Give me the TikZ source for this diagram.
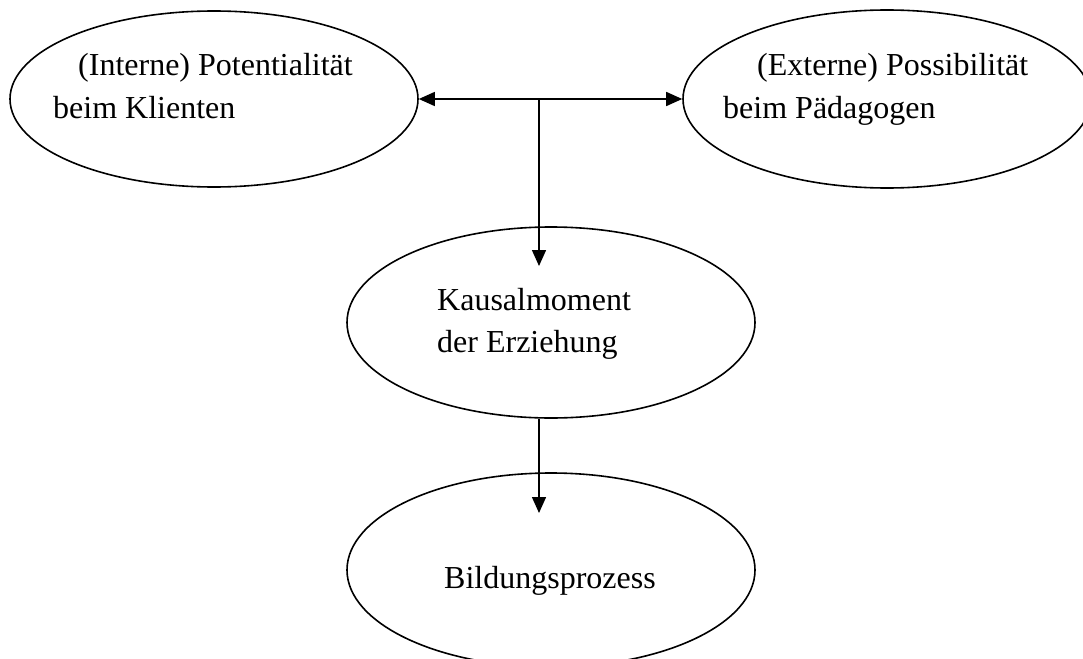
\documentclass[tikz,border=0pt]{standalone}
\usepackage{fontspec}
\setmainfont{Liberation Serif}
\usetikzlibrary{shapes.geometric,arrows.meta}
\tikzset{
  oval/.style={ellipse, draw, line width=1.6pt, inner sep=0pt, minimum width=408pt},
  txt/.style={anchor=base west, inner sep=0pt, font=\fontsize{32}{41}\selectfont},
  conn/.style={line width=1.5pt, -{Triangle[length=16pt,width=14pt]}},
  biconn/.style={line width=1.5pt, {Triangle[length=16pt,width=14pt]}-{Triangle[length=16pt,width=14pt]}}
}
\begin{document}
\begin{tikzpicture}[x=1pt,y=-1pt]
\useasboundingbox (0,0) rectangle (1083,658);
% the four ellipses
\node[oval, minimum height=176pt] (L) at (214,99) {};
\node[oval, minimum height=178pt] (R) at (887,99) {};
\node[oval, minimum height=191pt] (M) at (551,322.5) {};
\node[oval, minimum height=194pt] (B) at (551,570) {};
% labels
\node[txt] (L1) at (78,76) {(Interne) Potentialität};
\node[txt] (L2) at (53,118) {beim Klienten};
\node[txt] (R1) at (757,76) {(Externe) Possibilität};
\node[txt] (R2) at (723,118) {beim Pädagogen};
\node[txt] (M1) at (437,310) {Kausalmoment};
\node[txt] (M2) at (437,352) {der Erziehung};
\node[txt] (B1) at (444,588) {Bildungsprozess};
% connectors
\coordinate (J) at (539,99);
\coordinate (tipM) at (539,266);
\coordinate (tipB) at (539,513);
\draw[biconn] (L.east) -- (R.west);
\draw[conn] (J) -- (tipM);
\draw[conn] (tipB |- M.south) -- (tipB);
\end{tikzpicture}
\end{document}
